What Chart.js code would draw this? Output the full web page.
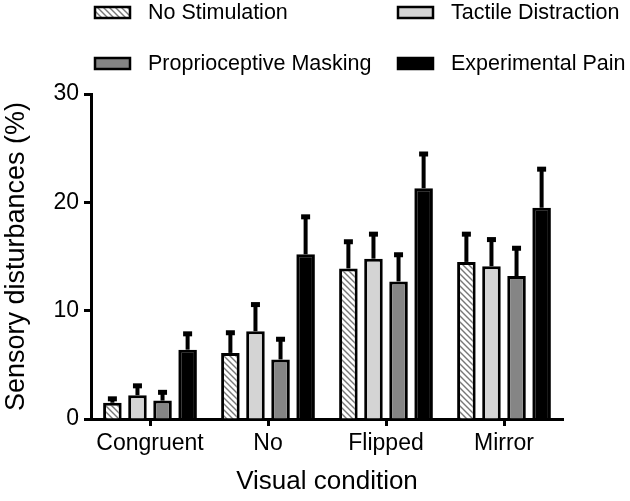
<!DOCTYPE html>
<html>
<head>
<meta charset="utf-8">
<script src="https://cdn.jsdelivr.net/npm/chart.js@4.4.1/dist/chart.umd.min.js"></script>
<style>
  html, body { margin: 0; padding: 0; background: #fff; }
  #wrap { width: 630px; height: 501px; }
</style>
</head>
<body>
<div id="wrap"><canvas id="grafico"></canvas></div>
<script>
const categories = ['Congruent', 'No', 'Flipped', 'Mirror'];
const seriesNames = ['No Stimulation', 'Tactile Distraction', 'Proprioceptive Masking', 'Experimental Pain'];

const noStim = [1.5, 6.1, 13.9, 14.5];
const tactile = [2.2, 8.1, 14.8, 14.1];
const proprio = [1.7, 5.5, 12.7, 13.2];
const pain = [6.4, 15.2, 21.3, 19.5];

const noStimErr = [0.5, 2.0, 2.6, 2.7];
const tactileErr = [1.0, 2.6, 2.4, 2.6];
const proprioErr = [0.9, 2.0, 2.6, 2.7];
const painErr = [1.6, 3.6, 3.3, 3.7];

const yTicks = [0, 10, 20, 30];

const font = "'Liberation Sans', Arial, sans-serif";

// hatch pattern for No Stimulation
function hatch() {
  const c = document.createElement('canvas');
  c.width = 6; c.height = 6;
  const g = c.getContext('2d');
  g.fillStyle = '#fff';
  g.fillRect(0, 0, 6, 6);
  g.strokeStyle = '#777';
  g.lineWidth = 1.4;
  g.beginPath();
  g.moveTo(-1, -1); g.lineTo(7, 7);
  g.moveTo(-4, 2); g.lineTo(4, 10);
  g.moveTo(2, -4); g.lineTo(10, 4);
  g.stroke();
  return g.createPattern(c, 'repeat');
}
const hatchFill = hatch();

const fills = [hatchFill, '#d4d4d4', '#858585', '#000'];
const values = [noStim, tactile, proprio, pain];
const errors = [noStimErr, tactileErr, proprioErr, painErr];

const errorBars = {
  id: 'errorBars',
  afterDatasetsDraw(chart) {
    const ctx = chart.ctx;
    const y = chart.scales.y;
    ctx.save();
    ctx.fillStyle = '#000';
    chart.data.datasets.forEach((ds, i) => {
      const meta = chart.getDatasetMeta(i);
      meta.data.forEach((bar, j) => {
        const top = y.getPixelForValue(ds.data[j] + errors[i][j]);
        ctx.fillRect(bar.x - 2, top, 4, bar.y - top);
        ctx.fillRect(bar.x - 4.5, top - 1, 9, 5);
      });
    });
    ctx.restore();
  }
};

const legendBoxes = {
  id: 'legendBoxes',
  afterDraw(chart) {
    const ctx = chart.ctx;
    const pos = [[95, 12], [398, 12], [95, 63], [398, 63]];
    ctx.save();
    ctx.font = '21.5px ' + font;
    ctx.textBaseline = 'middle';
    seriesNames.forEach((name, i) => {
      const [x, yy] = pos[i];
      ctx.fillStyle = fills[i];
      ctx.fillRect(x, yy - 5, 35, 11);
      ctx.strokeStyle = '#000';
      ctx.lineWidth = 2.5;
      ctx.strokeRect(x, yy - 5, 35, 11);
      ctx.fillStyle = '#000';
      ctx.fillText(name, x + 53, yy + 1);
    });
    ctx.restore();
  }
};

new Chart(document.getElementById('grafico'), {
  type: 'bar',
  data: {
    labels: categories,
    datasets: seriesNames.map((name, i) => ({
      label: name,
      data: values[i],
      backgroundColor: fills[i],
      borderColor: '#000',
      borderWidth: 3,
      barPercentage: 0.74,
      categoryPercentage: 0.85
    }))
  },
  options: {
    responsive: true,
    maintainAspectRatio: false,
    animation: false,
    layout: { padding: { top: 94, right: 67, left: 0, bottom: 0 } },
    plugins: {
      legend: { display: false },
      tooltip: { enabled: false }
    },
    scales: {
      x: {
        grid: { display: true, drawOnChartArea: false, offset: false, tickLength: 7, tickWidth: 3, tickColor: '#000' },
        border: { color: '#000', width: 3 },
        ticks: { color: '#000', font: { family: font, size: 23 }, padding: 4 },
        title: { display: true, text: 'Visual condition', color: '#000', font: { family: font, size: 26 }, padding: { top: 0, bottom: 4 } },
        afterFit(s) { s.height = 82; }
      },
      y: {
        min: 0,
        max: 30,
        afterBuildTicks(s) { s.ticks = yTicks.map(v => ({ value: v })); },
        grid: { display: true, drawOnChartArea: false, tickLength: 7, tickWidth: 3, tickColor: '#000' },
        border: { color: '#000', width: 3 },
        ticks: { color: '#000', font: { family: font, size: 23 }, padding: 5 },
        title: { display: true, text: 'Sensory disturbances (%)', color: '#000', font: { family: font, size: 27 }, padding: { top: 0, bottom: 0 } },
        afterFit(s) { s.width = 91; }
      }
    }
  },
  plugins: [errorBars, legendBoxes]
});
</script>
</body>
</html>
